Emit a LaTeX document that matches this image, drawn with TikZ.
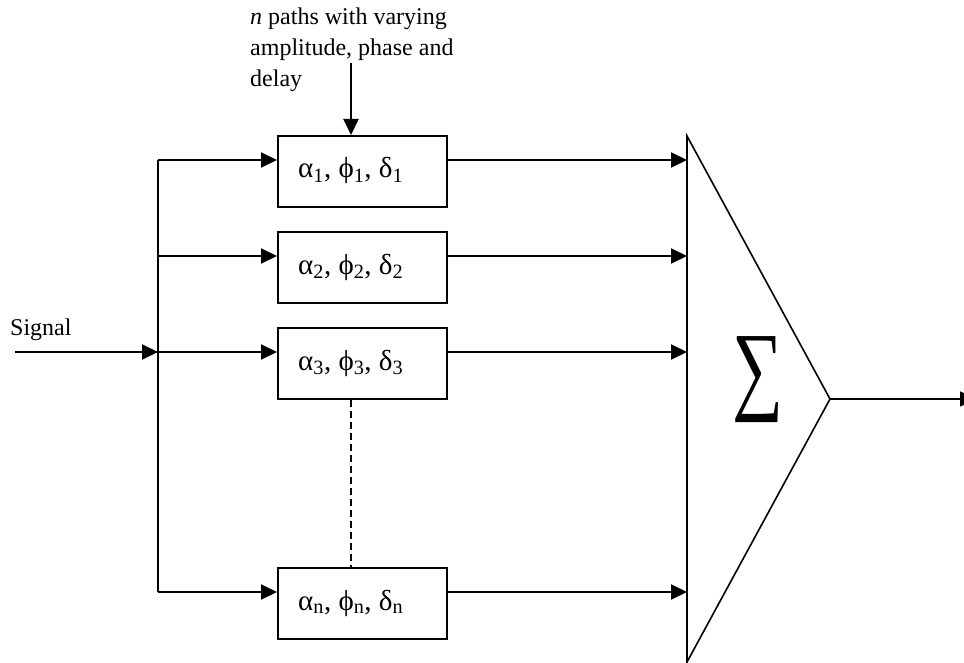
\documentclass[tikz,border=0pt]{standalone}
\usepackage{fontspec}
\setmainfont{Liberation Serif}
\usetikzlibrary{arrows.meta}
\begin{document}
\begin{tikzpicture}[x=1pt,y=-1pt,
  wire/.style={line width=2pt},
  flow/.style={wire,-{Triangle[length=16pt,width=15pt]}},
  pathbox/.style={draw,line width=2pt,minimum width=169pt,minimum height=71pt,inner sep=0pt},
  note/.style={font=\fontsize{24}{31}\selectfont,anchor=base west,inner sep=0pt},
  lbl/.style={font=\fontsize{29}{34}\selectfont,anchor=base west,inner sep=0pt}]
\clip (0,0) rectangle (964,663);
\fill[white] (0,0) rectangle (964,663);

% annotation above the first path
\node[note] (t1) at (250,25) {\textit{n} paths with varying};
\node[note] (t2) at (250,56) {amplitude, phase and};
\node[note] (t3) at (250,87) {delay};
\coordinate (ctrl) at (351,63);

% input
\node[note] (sig) at (10,335) {Signal};
\coordinate (sin) at (15,352);
\coordinate (bus1) at (158,160);
\coordinate (bus2) at (158,256);
\coordinate (bus3) at (158,352);
\coordinate (busn) at (158,592);

% the n paths
\node[pathbox] (b1) at (362.5,171.5) {};
\node[pathbox] (b2) at (362.5,267.5) {};
\node[pathbox] (b3) at (362.5,363.5) {};
\node[pathbox] (bn) at (362.5,603.5) {};
\node[lbl] (l1) at (298,178) {α\textsubscript{1}, ϕ\textsubscript{1}, δ\textsubscript{1}};
\node[lbl] (l2) at (298,274) {α\textsubscript{2}, ϕ\textsubscript{2}, δ\textsubscript{2}};
\node[lbl] (l3) at (298,370) {α\textsubscript{3}, ϕ\textsubscript{3}, δ\textsubscript{3}};
\node[lbl] (ln) at (298,610) {α\textsubscript{n}, ϕ\textsubscript{n}, δ\textsubscript{n}};

% summer
\coordinate (stop) at (687,136);
\coordinate (sbot) at (687,662);
\coordinate (sout) at (830,399);
\coordinate (yout) at (976,399);
\draw[line width=1.6pt,line join=miter] (stop) -- (sbot) -- (sout) -- cycle;
\node[inner sep=0pt] (sum) at (757.5,380) {\resizebox*{51pt}{86pt}{∑}};

% connectors
\draw[flow] (ctrl) -- (b1.north -| ctrl);
\draw[flow] (sin) -- (bus3);
\draw[wire] (bus1) -- (busn);
\foreach \r/\b in {bus1/b1,bus2/b2,bus3/b3,busn/bn}{
  \draw[flow] (\r) -- (\r -| \b.west);
  \draw[flow] (\r -| \b.east) -- (\r -| stop);
}
\draw[wire,dash pattern=on 7pt off 4pt] (b3.south -| ctrl) -- (bn.north -| ctrl);
\draw[flow,line width=1.6pt] (sout) -- (yout);
\end{tikzpicture}
\end{document}
